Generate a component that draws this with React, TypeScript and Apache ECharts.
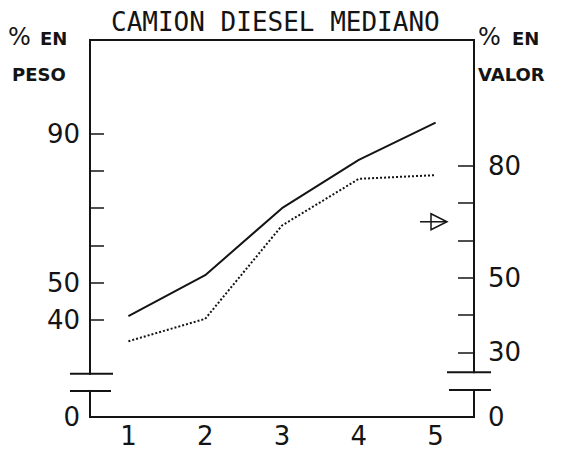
import React, { useEffect, useRef } from "react";
import * as echarts from "echarts";

const titleText = "CAMION DIESEL MEDIANO";
const categories = ["1", "2", "3", "4", "5"];
const pesoValues = [41, 52, 70, 83, 93];
const valorValues = [33, 39, 64, 76.5, 77.5];
const pesoTickValues = [40, 50, 60, 70, 80, 90];
const pesoLabelValues = [0, 40, 50, 90];
const valorTickValues = [30, 40, 50, 60, 70, 80];
const valorLabelValues = [0, 30, 50, 80];
const pesoBreak = { start: 7, end: 25.5, gap: 4.6 };
const valorBreak = { start: 7.2, end: 24.7, gap: 4.8 };
const leftAxisName = ["EN", "PESO"];
const rightAxisName = ["EN", "VALOR"];
const arrowValue = 65;

const GRID = { left: 90, right: 94, top: 40, bottom: 43 };
const W = 568;
const H = 460;
const INK = "#141414";
const digitFont = "DejaVu Sans";

export default function App() {
  const ref = useRef<HTMLDivElement>(null);
  useEffect(() => {
    if (!ref.current) return;
    const chart = echarts.init(ref.current, undefined, { renderer: "svg" });
    const axisCommon = {
      type: "value" as const,
      min: 0,
      splitLine: { show: false },
      breakArea: { show: false },
      axisLine: { show: true, lineStyle: { color: INK, width: 2 } },
    };
    chart.setOption({
      animation: false,
      backgroundColor: "#fff",
      title: {
        text: titleText,
        left: 106,
        top: 4,
        textStyle: { fontFamily: "DejaVu Sans Mono", fontSize: 26, fontWeight: "normal", color: INK },
      },
      grid: { ...GRID, show: true, borderColor: INK, borderWidth: 2, backgroundColor: "transparent" },
      xAxis: {
        type: "category",
        data: categories,
        boundaryGap: true,
        axisLine: { lineStyle: { color: INK, width: 2 } },
        axisTick: { alignWithLabel: true, inside: true, length: 12, lineStyle: { color: INK, width: 1.5 } },
        axisLabel: { fontFamily: digitFont, fontSize: 26, color: INK, margin: 6 },
      },
      yAxis: [
        {
          ...axisCommon,
          position: "left",
          max: 115.2,
          breaks: [pesoBreak],
          axisTick: { show: true, inside: true, length: 14, customValues: pesoTickValues, lineStyle: { color: INK, width: 1.5 } },
          axisLabel: { customValues: pesoLabelValues, fontFamily: digitFont, fontSize: 26, color: INK, margin: 10 },
        },
        {
          ...axisCommon,
          position: "right",
          max: 113.7,
          breaks: [valorBreak],
          axisTick: { show: true, inside: true, length: 16, customValues: valorTickValues, lineStyle: { color: INK, width: 1.5 } },
          axisLabel: { customValues: valorLabelValues, fontFamily: digitFont, fontSize: 26, color: INK, margin: 14 },
        },
      ],
      series: [
        {
          name: "% en peso",
          type: "line",
          yAxisIndex: 0,
          data: pesoValues,
          symbol: "none",
          lineStyle: { color: INK, width: 2 },
        },
        {
          name: "% en valor",
          type: "line",
          yAxisIndex: 1,
          data: valorValues,
          symbol: "none",
          lineStyle: { color: INK, width: 2, type: "dotted" },
        },
      ],
    });

    const xLeft = GRID.left;
    const xRight = W - GRID.right;
    const yL = (v: number) => chart.convertToPixel({ yAxisIndex: 0 }, v) as number;
    const yR = (v: number) => chart.convertToPixel({ yAxisIndex: 1 }, v) as number;
    const lb = yL(pesoBreak.start);
    const le = yL(pesoBreak.end);
    const rb = yR(valorBreak.start);
    const re = yR(valorBreak.end);
    const ya = yR(arrowValue);
    const lineStyle = { stroke: INK, lineWidth: 2 };
    const nameText = (x: number, y: number, text: string, font = `bold 18px "DejaVu Sans"`) => ({
      type: "text",
      x,
      y,
      style: { text, fill: INK, font },
    });
    const pctFont = `24px "DejaVu Sans"`;

    chart.setOption({
      graphic: [
        // erase the axis lines inside the breaks
        { type: "rect", z: 50, shape: { x: xLeft - 4, y: le + 1, width: 8, height: lb - le - 2 }, style: { fill: "#fff" } },
        { type: "rect", z: 50, shape: { x: xRight - 4, y: re + 1, width: 8, height: rb - re - 2 }, style: { fill: "#fff" } },
        { type: "line", z: 51, shape: { x1: xLeft - 20, y1: le, x2: xLeft + 23, y2: le }, style: lineStyle },
        { type: "line", z: 51, shape: { x1: xLeft - 20, y1: lb, x2: xLeft + 21, y2: lb }, style: lineStyle },
        { type: "line", z: 51, shape: { x1: xRight - 27, y1: re, x2: xRight + 17, y2: re }, style: lineStyle },
        { type: "line", z: 51, shape: { x1: xRight - 25, y1: rb, x2: xRight + 17, y2: rb }, style: lineStyle },
        // axis names
        nameText(8, 25, "%", pctFont),
        nameText(40, 29, leftAxisName[0]),
        nameText(12, 65, leftAxisName[1]),
        nameText(478, 25, "%", pctFont),
        nameText(512, 29, rightAxisName[0]),
        nameText(478, 65, rightAxisName[1]),
        // arrow pointing to the right axis
        { type: "line", z: 51, shape: { x1: xRight - 54, y1: ya, x2: xRight - 28, y2: ya }, style: { stroke: INK, lineWidth: 1.5 } },
        {
          type: "polygon",
          z: 51,
          shape: { points: [[xRight - 43, ya - 8], [xRight - 27, ya], [xRight - 43, ya + 8]] },
          style: { fill: "none", stroke: INK, lineWidth: 1.5 },
        },
      ],
    });
    return () => chart.dispose();
  }, []);
  return <div ref={ref} style={{ width: W, height: H, position: "absolute", left: 0, top: 0 }} />;
}
